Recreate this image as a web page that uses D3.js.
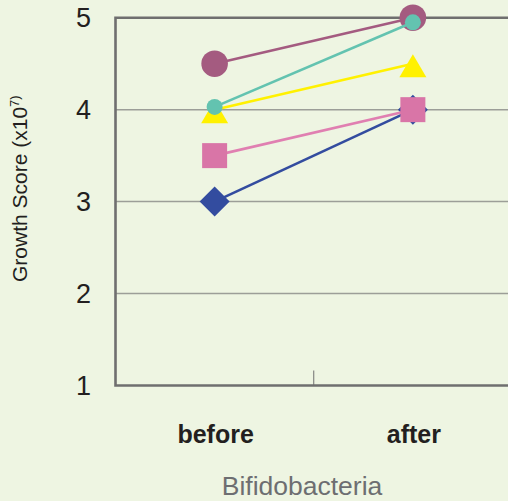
<!DOCTYPE html>
<html>
<head>
<meta charset="utf-8">
<script src="https://cdn.jsdelivr.net/npm/d3@7"></script>
<style>
  html, body { margin: 0; padding: 0; background: #eef5e2; }
  svg { display: block; font-family: "Liberation Sans", Arial, Helvetica, sans-serif; }
</style>
</head>
<body>
<svg id="chart" width="508" height="501"></svg>
<script>
// Growth score of Bifidobacteria before and after, one line per subject
const phases = ["before", "after"];
const yTicks = [1, 2, 3, 4, 5];
const seriesNames = ["A", "B", "C", "D", "E"];
const beforeValues = [4.5, 3.0, 3.5, 4.0, 4.03];
const afterValues  = [5.0, 4.0, 4.0, 4.5, 4.95];
const seriesColors = ["#a45b80", "#334c9f", "#d975a7", "#fff100", "#63c3b0"];
const lineColors   = ["#a45b80", "#334c9f", "#e07fb1", "#fff100", "#63c3b0"];
const seriesShapes = ["bigCircle", "diamond", "square", "triangle", "smallCircle"];

const svg = d3.select("#chart");
const W = 508, H = 501;
const plotLeft = 115.5, plotTop = 17.7, plotBottom = 385.5, plotRight = 512;

const x = d3.scaleBand().domain(phases).range([plotLeft, plotRight]).padding(0);
const y = d3.scaleLinear().domain([1, 5]).range([plotBottom, plotTop]);

// horizontal gridlines
svg.append("g")
  .selectAll("line")
  .data(yTicks.filter(t => t > 1 && t < 5))
  .join("line")
  .attr("x1", plotLeft).attr("x2", W)
  .attr("y1", d => y(d)).attr("y2", d => y(d))
  .attr("stroke", "#9c9e98").attr("stroke-width", 1.5);

// frame: top, left, bottom
svg.append("path")
  .attr("d", `M${W},${y(5)}H${plotLeft}V${y(1)}H${W}`)
  .attr("stroke", "#6f6f6f").attr("stroke-width", 2.6).attr("fill", "none");

// category separator tick on the bottom axis
svg.append("g")
  .selectAll("line")
  .data(phases.slice(1))
  .join("line")
  .attr("x1", d => x(d)).attr("x2", d => x(d))
  .attr("y1", plotBottom).attr("y2", plotBottom - 15)
  .attr("stroke", "#6f6f6f").attr("stroke-width", 1);

// y tick labels
svg.append("g")
  .selectAll("text")
  .data(yTicks)
  .join("text")
  .attr("x", 91)
  .attr("y", d => y(d))
  .attr("dy", "0.36em")
  .attr("text-anchor", "end")
  .attr("font-size", 27)
  .attr("fill", "#231f20")
  .text(d => d);

// category labels
svg.append("g")
  .selectAll("text")
  .data(phases)
  .join("text")
  .attr("x", d => x(d) + x.bandwidth() / 2 + 1)
  .attr("y", 443)
  .attr("text-anchor", "middle")
  .attr("font-size", 25)
  .attr("font-weight", "bold")
  .attr("fill", "#231f20")
  .text(d => d);

// x axis title
svg.append("text")
  .attr("x", 302).attr("y", 495)
  .attr("text-anchor", "middle")
  .attr("font-size", 26.5)
  .attr("fill", "#6d6e71")
  .text("Bifidobacteria");

// y axis title
const yt = svg.append("text")
  .attr("transform", "translate(27,282) rotate(-90)")
  .attr("text-anchor", "start")
  .attr("font-size", 21)
  .attr("fill", "#231f20");
yt.append("tspan").text("Growth Score (x10");
yt.append("tspan").attr("font-size", 13).attr("dy", -8).text("7)");

// marker shapes
function markerPath(shape) {
  switch (shape) {
    case "square": return "M-12.5,-12.5H12.5V12.5H-12.5Z";
    case "diamond": return "M0,-15L15,0L0,15L-15,0Z";
    case "triangle": return "M0,-9.5L13.5,13.5L-13.5,13.5Z";
    default: return null;
  }
}

const cx = d => x(d) + x.bandwidth() / 2;

seriesNames.forEach((name, i) => {
  const pts = [[phases[0], beforeValues[i]], [phases[1], afterValues[i]]];
  const g = svg.append("g").attr("class", "series-" + name);
  g.append("path")
    .datum(pts)
    .attr("d", d3.line().x(d => cx(d[0])).y(d => y(d[1])))
    .attr("fill", "none")
    .attr("stroke", lineColors[i])
    .attr("stroke-width", 2.6);
  const shape = seriesShapes[i];
  if (shape === "bigCircle" || shape === "smallCircle") {
    g.selectAll("circle").data(pts).join("circle")
      .attr("cx", d => cx(d[0])).attr("cy", d => y(d[1]))
      .attr("r", shape === "bigCircle" ? 13.3 : 8)
      .attr("fill", seriesColors[i]);
  } else {
    g.selectAll("path.m").data(pts).join("path")
      .attr("class", "m")
      .attr("transform", d => `translate(${cx(d[0])},${y(d[1])})`)
      .attr("d", markerPath(shape))
      .attr("fill", seriesColors[i]);
  }
});
</script>
</body>
</html>
